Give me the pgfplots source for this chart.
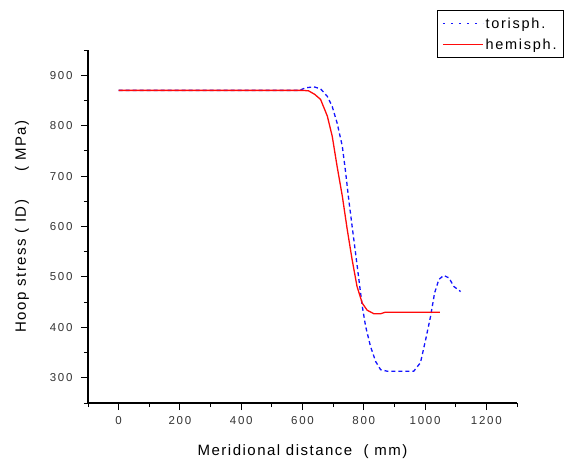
\documentclass[border=0pt]{standalone}
\usepackage{fontspec}
\setmainfont{Liberation Sans}
\newfontfamily\labfont[LetterSpace=10]{Liberation Sans}
\newfontfamily\ticfont[LetterSpace=15]{Liberation Sans}
\newfontfamily\legfont[LetterSpace=12]{Liberation Sans}
\usepackage{pgfplots}
\pgfplotsset{compat=1.18}
\definecolor{oblue}{RGB}{20,20,255}
\definecolor{ored}{RGB}{255,10,10}
\begin{document}
\begin{tikzpicture}
\begin{axis}[name=ax,
  scale only axis, width=429pt, height=353pt,
  xmin=-100, xmax=1300, ymin=250, ymax=950,
  axis x line*=bottom, axis y line*=left,
  axis line style={-, line width=1.1pt, black},
  xtick={0,200,...,1200}, ytick={300,400,...,900},
  minor xtick={-100,100,...,1300}, minor ytick={250,350,...,950},
  tick align=outside,
  major tick length=7pt, minor tick length=4pt,
  every tick/.style={black, line width=0.9pt},
  /pgf/number format/assume math mode=true,
  /pgf/number format/set thousands separator={},
  ticklabel style={font=\ticfont\fontsize{11.5}{13}\selectfont, text=black!80},
  xticklabel style={yshift=-3pt},
  yticklabel style={xshift=-5pt},
  xlabel={Meridional distance \ ( mm)},
  ylabel={Hoop stress ( ID) \ \ \ \ ( MPa)},
  label style={font=\labfont\fontsize{15}{17}\selectfont},
  x label style={at={(axis description cs:0.5,-0.139)}, anchor=center},
  y label style={at={(axis description cs:-0.154,0.5)}, anchor=center, rotate=0},
  legend style={at={(axis description cs:1.1096,1.113)}, anchor=north east,
    draw=black, line width=0.9pt, fill=white,
    font=\legfont\fontsize{14.5}{17}\selectfont,
    inner xsep=5pt, inner ysep=5pt, row sep=5pt},
  legend cell align=left,
  clip=false,
]
\addplot[oblue, line width=1.3pt, dash pattern=on 4pt off 3pt,
  legend image code/.code={\draw[draw=oblue, line width=1.3pt, dash pattern=on 2pt off 6pt] (0pt,0pt) -- (40pt,0pt);}] coordinates {
(0,870) (590,870) (610,875) (637,877) (659,873) (681,858) (697,838)
(713,805) (730,759) (741,706) (751,653) (762,600) (773,548) (784,495)
(795,442) (806,402) (822,362) (839,332) (855,316) (877,313) (963,313)
(985,330) (1002,376) (1018,422) (1031,468) (1045,495) (1061,503)
(1078,498) (1094,481) (1116,471)};
\addlegendentry{torisph.}
\addplot[ored, line width=1.3pt,
  legend image code/.code={\draw[draw=ored, line width=1.3pt, solid] (0pt,0pt) -- (40pt,0pt);}] coordinates {
(0,870) (600,870) (620,869) (640,862) (659,852) (681,819) (697,779)
(713,719) (730,660) (746,594) (762,534) (778,481) (795,448) (811,434)
(833,427) (855,427) (870,430) (1048,430)};
\addlegendentry{hemisph.}
\end{axis}
\path (ax.south west) ++(-88pt,-61pt) rectangle ++(565pt,464pt);
\end{tikzpicture}
\end{document}
